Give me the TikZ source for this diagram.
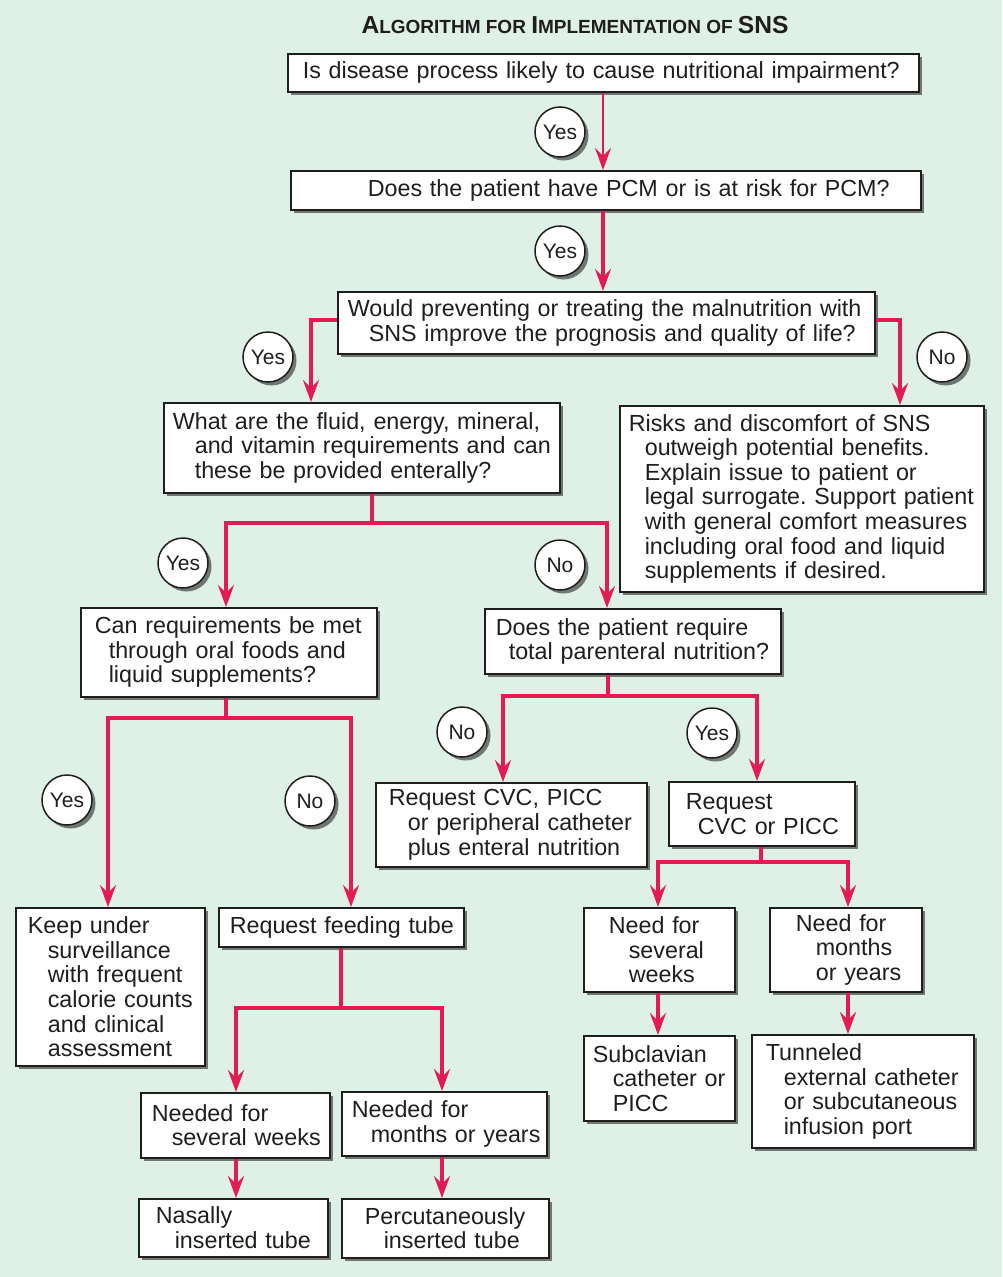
\documentclass[tikz,border=0pt]{standalone}
\usepackage{fontspec}
\setmainfont{Liberation Sans}
\usetikzlibrary{shadows,arrows.meta}
\hyphenpenalty=10000
\exhyphenpenalty=10000
\frenchspacing
\definecolor{bgc}{RGB}{223,240,230}
\definecolor{redc}{RGB}{226,27,84}
\definecolor{inkc}{RGB}{30,30,30}
\definecolor{shadc}{RGB}{100,106,103}
\tikzset{
  shad/.style={drop shadow={shadow xshift=3.5pt, shadow yshift=-3.5pt, fill=shadc, opacity=0.9}},
  box/.style={draw=inkc, line width=1.6pt, fill=white, anchor=north west, align=left,
    inner xsep=0pt, inner ysep=0pt, text=inkc, shad,
    font=\fontsize{23.3}{24.6}\selectfont},
  lab/.style={circle, draw=inkc, line width=1.5pt, fill=white, minimum size=50pt,
    inner sep=0pt, text=inkc, shad, font=\fontsize{21}{21}\selectfont},
  conn/.style={draw=redc, line width=3.2pt},
  arr/.style={conn, -{Stealth[length=22pt,width=16pt,inset=8pt]}},
}
\newcommand\BigC{\fontsize{24.6}{24.6}\selectfont}
\newcommand\SmC{\fontsize{19}{19}\selectfont}
\begin{document}
\begin{tikzpicture}[x=1pt,y=-1pt]
\fill[bgc] (0,0) rectangle (1002,1277);
\useasboundingbox (0,0) rectangle (1002,1277);

\node[font=\bfseries, text=inkc, anchor=base, inner sep=0pt] (title) at (575,33)
  {{\BigC A}{\SmC LGORITHM FOR }{\BigC I}{\SmC MPLEMENTATION OF }{\BigC SNS}};

% boxes
\node[box, minimum width=631pt, minimum height=38pt, text width=627pt] (A) at (287,53)
  {\hspace*{13pt}Is disease process likely to cause nutritional impairment?};
\node[box, minimum width=630pt, minimum height=39pt, text width=626pt] (B) at (290,170)
  {\hspace*{75pt}Does the patient have PCM or is at risk for PCM?};
\node[box, minimum width=537pt, minimum height=62pt, text width=533pt] (C) at (337,291)
  {\hspace*{8pt}Would preventing or treating the malnutrition with\\
   \hspace*{29pt}SNS improve the prognosis and quality of life?};
\node[box, minimum width=396pt, minimum height=90pt, text width=392pt] (D) at (163,402)
  {\hspace*{7pt}What are the fluid, energy, mineral,\\
   \hspace*{29pt}and vitamin requirements and can\\
   \hspace*{29pt}these be provided enterally?};
\node[box, minimum width=364pt, minimum height=186pt, text width=360pt] (E) at (619,405)
  {\hspace*{7pt}Risks and discomfort of SNS\\
   \hspace*{23pt}outweigh potential benefits.\\
   \hspace*{23pt}Explain issue to patient or\\
   \hspace*{23pt}legal surrogate. Support patient\\
   \hspace*{23pt}with general comfort measures\\
   \hspace*{23pt}including oral food and liquid\\
   \hspace*{23pt}supplements if desired.};
\node[box, minimum width=296pt, minimum height=89pt, text width=292pt] (F) at (80,607)
  {\hspace*{12pt}Can requirements be met\\
   \hspace*{26pt}through oral foods and\\
   \hspace*{26pt}liquid supplements?};
\node[box, minimum width=296pt, minimum height=65pt, text width=292pt] (G) at (484,608)
  {\hspace*{9pt}Does the patient require\\
   \hspace*{22pt}total parenteral nutrition?};
\node[box, minimum width=271pt, minimum height=84pt, text width=267pt] (H) at (375,782)
  {\hspace*{11pt}Request CVC, PICC\\
   \hspace*{30pt}or peripheral catheter\\
   \hspace*{30pt}plus enteral nutrition};
\node[box, minimum width=186pt, minimum height=64pt, text width=182pt] (I) at (668,781)
  {\hspace*{15pt}Request\\
   \hspace*{27pt}CVC or PICC};
\node[box, minimum width=189pt, minimum height=158pt, text width=185pt] (J) at (15,907)
  {\hspace*{10pt}Keep under\\
   \hspace*{30pt}surveillance\\
   \hspace*{30pt}with frequent\\
   \hspace*{30pt}calorie counts\\
   \hspace*{30pt}and clinical\\
   \hspace*{30pt}assessment};
\node[box, minimum width=245pt, minimum height=39pt, text width=241pt] (K) at (218,907)
  {\hspace*{9pt}Request feeding tube};
\node[box, minimum width=189pt, minimum height=65pt, text width=185pt] (L) at (140,1092)
  {\hspace*{9pt}Needed for\\
   \hspace*{29pt}several weeks};
\node[box, minimum width=205pt, minimum height=64pt, text width=201pt] (M) at (341,1091)
  {\hspace*{8pt}Needed for\\
   \hspace*{27pt}months or years};
\node[box, minimum width=189pt, minimum height=58pt, text width=185pt] (N) at (138,1198)
  {\hspace*{15pt}Nasally\\
   \hspace*{34pt}inserted tube};
\node[box, minimum width=207pt, minimum height=59pt, text width=203pt] (O) at (341,1198)
  {\hspace*{21pt}Percutaneously\\
   \hspace*{40pt}inserted tube};
\node[box, minimum width=151pt, minimum height=84pt, text width=147pt] (P) at (583,907)
  {\hspace*{23pt}Need for\\
   \hspace*{43pt}several\\
   \hspace*{43pt}weeks};
\node[box, minimum width=152pt, minimum height=84pt, text width=148pt] (Q) at (769,907)
  {\hspace*{24pt}Need for\\
   \hspace*{44pt}months\\
   \hspace*{44pt}or years};
\node[box, minimum width=151pt, minimum height=85pt, text width=147pt] (R) at (583,1035)
  {\hspace*{7pt}Subclavian\\
   \hspace*{27pt}catheter or\\
   \hspace*{27pt}PICC};
\node[box, minimum width=222pt, minimum height=113pt, text width=218pt] (S) at (751,1034)
  {\hspace*{12pt}Tunneled\\
   \hspace*{30pt}external catheter\\
   \hspace*{30pt}or subcutaneous\\
   \hspace*{30pt}infusion port};

% branch points
\coordinate (v1) at (603,0);
\coordinate (c3) at (311,320);
\coordinate (c4) at (900,320);
\coordinate (d0) at (372,523);
\coordinate (dl) at (226,0);
\coordinate (dr) at (607,0);
\coordinate (f0) at (226,718);
\coordinate (fl) at (108,0);
\coordinate (fr) at (351,0);
\coordinate (g0) at (608,696);
\coordinate (gl) at (503,0);
\coordinate (gr) at (757,0);
\coordinate (i0) at (761,862);
\coordinate (il) at (658,0);
\coordinate (ir) at (848,0);
\coordinate (k0) at (341,1008);
\coordinate (kl) at (236,0);
\coordinate (kr) at (442,0);

% connectors
\draw[arr, line width=2.4pt] (v1 |- A.south) -- (v1 |- B.north);
\draw[arr] (v1 |- B.south) -- (v1 |- C.north);
\draw[arr] (C.west |- c3) -| (c3 |- D.north);
\draw[arr] (C.east |- c4) -| (c4 |- E.north);
\draw[conn] (d0 |- D.south) -- (d0);
\draw[arr] (d0) -| (dl |- F.north);
\draw[arr] (d0) -| (dr |- G.north);
\draw[conn] (f0 |- F.south) -- (f0);
\draw[arr] (f0) -| (fl |- J.north);
\draw[arr] (f0) -| (fr |- K.north);
\draw[conn] (g0 |- G.south) -- (g0);
\draw[arr] (g0) -| (gl |- H.north);
\draw[arr] (g0) -| (gr |- I.north);
\draw[conn] (i0 |- I.south) -- (i0);
\draw[arr] (i0) -| (il |- P.north);
\draw[arr] (i0) -| (ir |- Q.north);
\draw[conn] (k0 |- K.south) -- (k0);
\draw[arr] (k0) -| (kl |- L.north);
\draw[arr] (k0) -| (kr |- M.north);
\draw[arr] (kl |- L.south) -- (kl |- N.north);
\draw[arr] (kr |- M.south) -- (kr |- O.north);
\draw[arr] (il |- P.south) -- (il |- R.north);
\draw[arr] (ir |- Q.south) -- (ir |- S.north);

% labels
\node[lab] (y1) at (560,132) {Yes};
\node[lab] (y2) at (560,251) {Yes};
\node[lab] (y3) at (268,357) {Yes};
\node[lab] (n1) at (942,357) {No};
\node[lab] (y4) at (183,563) {Yes};
\node[lab] (n2) at (560,565) {No};
\node[lab] (y5) at (67,800) {Yes};
\node[lab] (n3) at (310,801) {No};
\node[lab] (n4) at (462,732) {No};
\node[lab] (y6) at (712,733) {Yes};
\end{tikzpicture}
\end{document}
